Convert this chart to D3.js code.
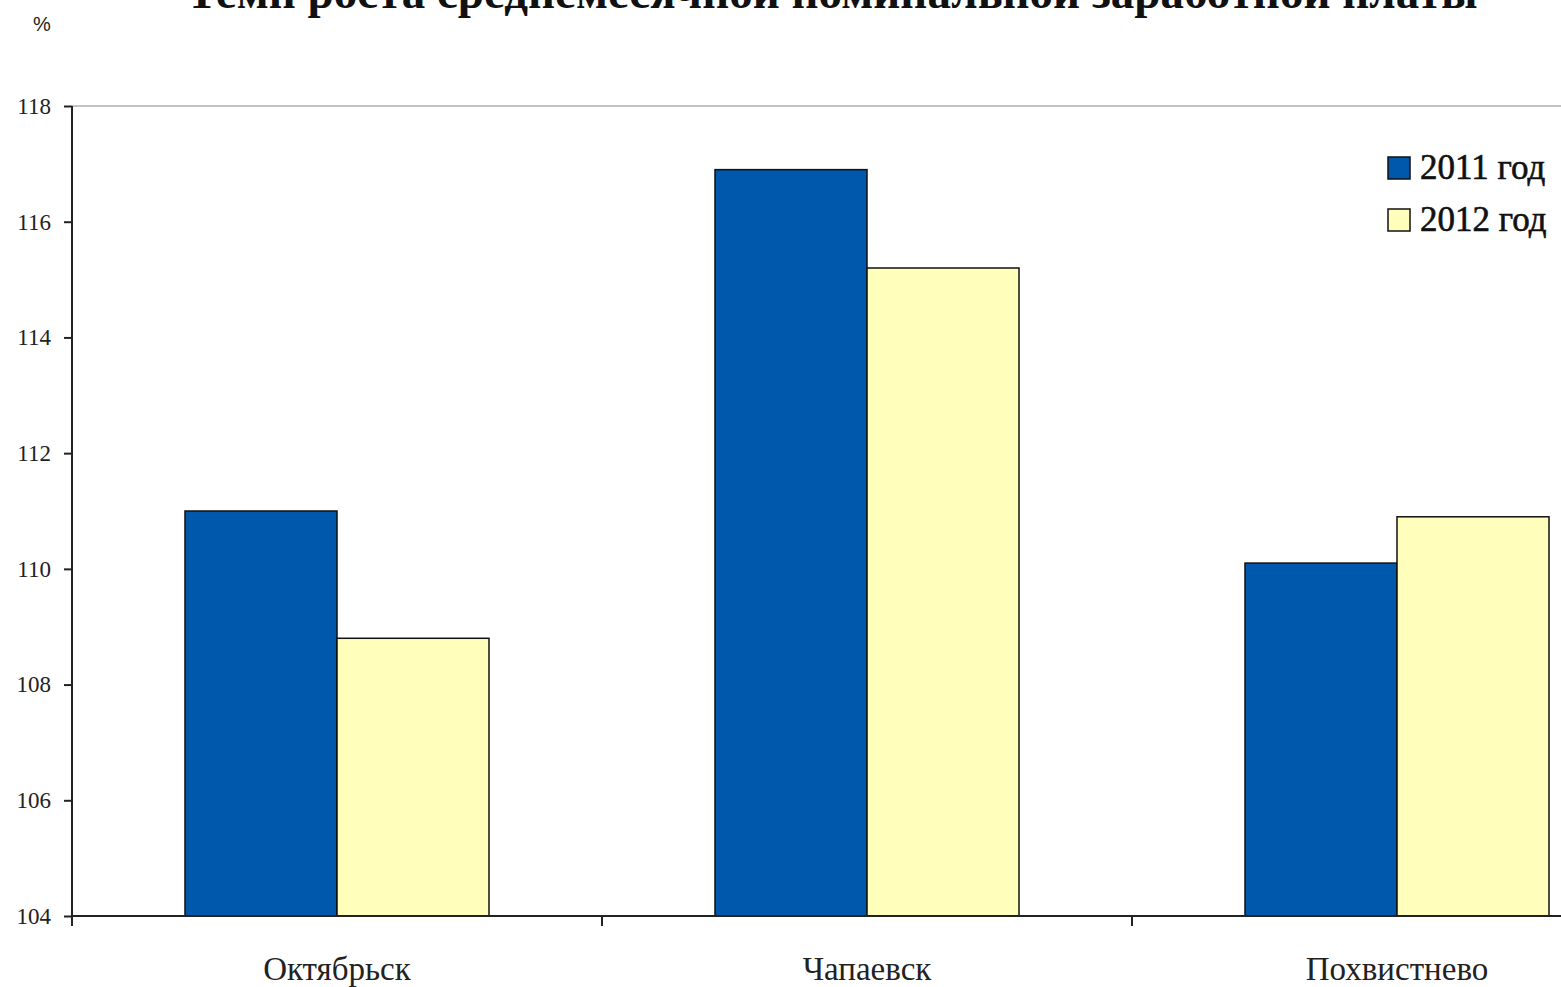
<!DOCTYPE html>
<html><head><meta charset="utf-8">
<script src="https://cdn.jsdelivr.net/npm/d3@7"></script>
<style>html,body{margin:0;padding:0;background:#fff;overflow:hidden}</style>
</head><body>
<svg id="chart" width="1561" height="987"></svg>
<script>
const categories = ["Октябрьск", "Чапаевск", "Похвистнево"];
const seriesNames = ["2011 год", "2012 год"];
const values2011 = [111.0, 116.9, 110.1];
const values2012 = [108.8, 115.2, 110.9];
const yTicks = [104, 106, 108, 110, 112, 114, 116, 118];
const titleText = "Темп роста среднемесячной номинальной заработной платы";
const unitText = "%";
const colors = ["#0058AD", "#FFFFBB"];

(function () {
const svg = d3.select("#chart");
const pLeft = 72, pTop = 106, pBottom = 916;
const step = 530;
const x = d3.scaleBand().domain(categories).range([pLeft, pLeft + step * categories.length])
  .paddingInner(0.4264).paddingOuter(0.2132);
const x1 = d3.scaleBand().domain(seriesNames).range([0, x.bandwidth()]);
const y = d3.scaleLinear().domain([104, 118]).range([pBottom, pTop]);

svg.append("line").attr("x1", pLeft).attr("x2", 1561).attr("y1", pTop).attr("y2", pTop)
  .attr("stroke", "#888").attr("stroke-width", 1.2);

const data = categories.map((c, i) => ({cat: c, vals: [values2011[i], values2012[i]]}));
const g = svg.append("g");
data.forEach(d => {
  d.vals.forEach((v, j) => {
    g.append("rect")
      .attr("x", x(d.cat) + x1(seriesNames[j]))
      .attr("y", y(v))
      .attr("width", x1.bandwidth())
      .attr("height", y(104) - y(v))
      .attr("fill", colors[j])
      .attr("stroke", "#111").attr("stroke-width", 1.5);
  });
});

const yAxis = svg.append("g").attr("transform", `translate(${pLeft},0)`)
  .call(d3.axisLeft(y).tickValues(yTicks).tickSize(8).tickFormat(d3.format("d")));
yAxis.select(".domain").attr("stroke", "#222").attr("stroke-width", 2).attr("d", `M0,${pTop}V${pBottom}`);
yAxis.selectAll(".tick line").attr("stroke", "#222").attr("stroke-width", 2);
yAxis.selectAll(".tick text").attr("font-family", "Liberation Serif").attr("font-size", 23)
  .attr("fill", "#222").attr("x", -21);

const xAxisG = svg.append("g");
xAxisG.append("line").attr("x1", pLeft).attr("x2", 1561).attr("y1", pBottom).attr("y2", pBottom)
  .attr("stroke", "#222").attr("stroke-width", 2);
categories.forEach((c, i) => {
  const bx = pLeft + step * i;
  xAxisG.append("line").attr("x1", bx).attr("x2", bx).attr("y1", pBottom).attr("y2", pBottom + 10)
    .attr("stroke", "#222").attr("stroke-width", 2);
  xAxisG.append("text").attr("x", x(c) + x.bandwidth() / 2).attr("y", 980)
    .attr("text-anchor", "middle").attr("font-family", "Liberation Serif")
    .attr("font-size", 33).attr("fill", "#222").text(c);
});

svg.append("text").attr("x", 832).attr("y", 8).attr("text-anchor", "middle")
  .attr("font-family", "Liberation Serif").attr("font-weight", "bold")
  .attr("font-size", 47).attr("fill", "#111").text(titleText);

svg.append("text").attr("x", 42).attr("y", 31).attr("text-anchor", "middle")
  .attr("font-family", "Liberation Sans").attr("font-size", 20).attr("fill", "#222").text(unitText);

const leg = svg.append("g");
seriesNames.forEach((s, i) => {
  const ly = 157 + i * 52;
  leg.append("rect").attr("x", 1388).attr("y", ly).attr("width", 22).attr("height", 22)
    .attr("fill", colors[i]).attr("stroke", "#111").attr("stroke-width", 1.5);
  leg.append("text").attr("x", 1420).attr("y", ly + 22).attr("font-family", "Liberation Serif")
    .attr("font-size", 35).attr("fill", "#111").attr("stroke", "#111").attr("stroke-width", 0.6).text(s);
});
})();
</script>
</body></html>
